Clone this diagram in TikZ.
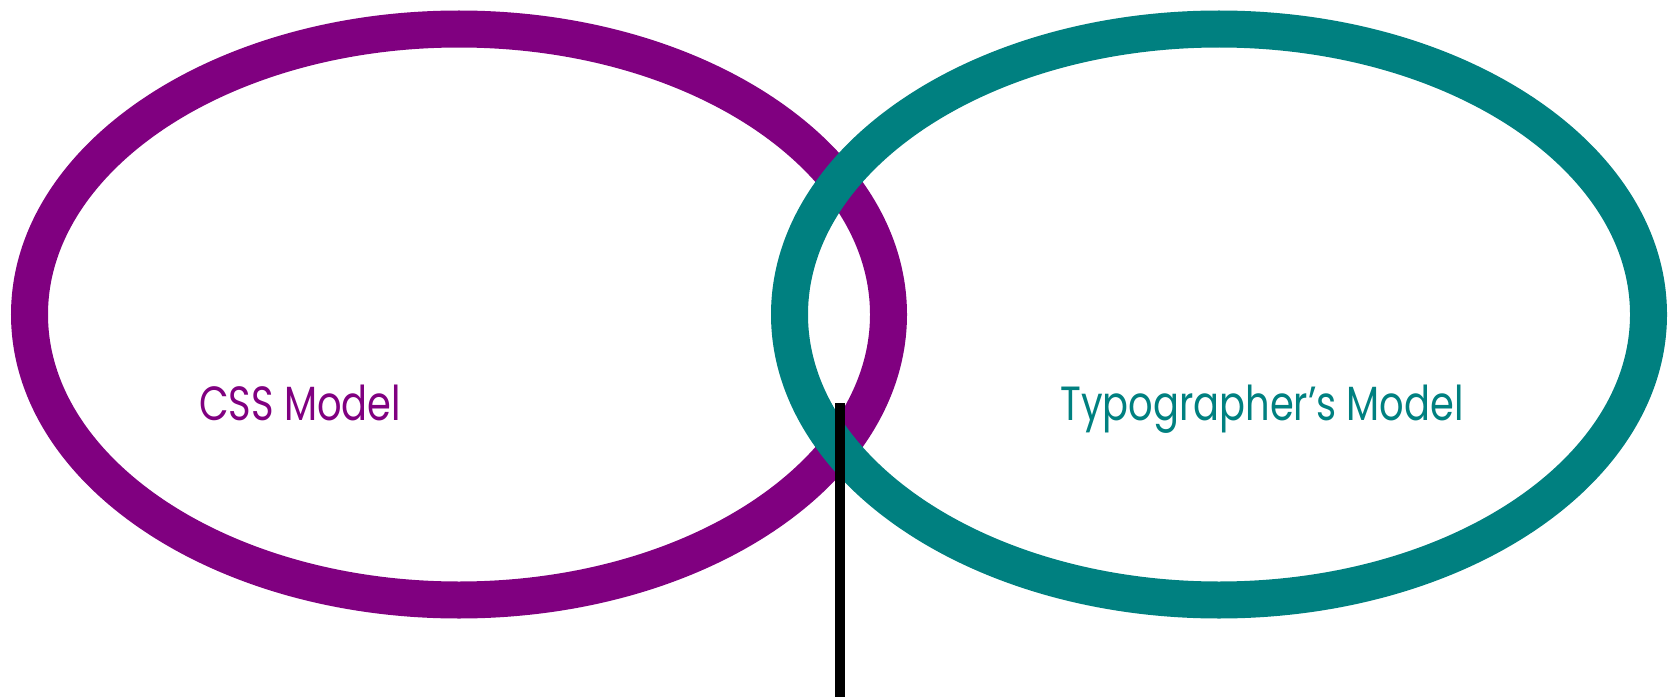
\documentclass[tikz,border=0pt]{standalone}
\usepackage{fontspec}
\setmainfont{Poppins}
\newfontfamily\lblfont[FakeStretch=0.8]{Poppins}
\definecolor{cssPurple}{HTML}{800080}
\definecolor{typoTeal}{HTML}{008080}
\begin{document}
\begin{tikzpicture}[x=1bp,y=-1bp,
  ring/.style={line width=37bp},
  lbl/.style={font=\lblfont\fontsize{48bp}{56bp}\selectfont, anchor=base, inner sep=0pt},
  divider/.style={line width=10bp, black}]
\useasboundingbox (0,0) rectangle (1668,697);
\draw[ring, cssPurple] (459,314.5) ellipse [x radius=429.5, y radius=285.5];
\draw[ring, typoTeal] (1219,314.5) ellipse [x radius=429.5, y radius=285.5];
\node[lbl, text=cssPurple] (css) at (300,420) {CSS Model};
\node[lbl, text=typoTeal] (typo) at (1262,420) {Typographer’s Model};
\coordinate (ltop) at (840,403);
\coordinate (lbot) at (840,697);
\draw[divider] (ltop) -- (lbot);
\end{tikzpicture}
\end{document}
